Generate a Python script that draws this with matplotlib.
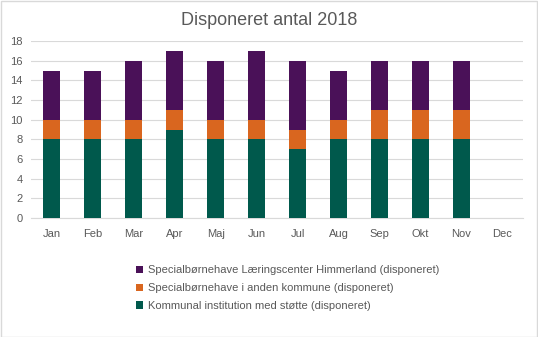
import matplotlib
matplotlib.use("Agg")
import matplotlib.pyplot as plt
from matplotlib.patches import Rectangle
import numpy as np

months = ["Jan", "Feb", "Mar", "Apr", "Maj", "Jun", "Jul", "Aug", "Sep", "Okt", "Nov", "Dec"]
kommunal = [8, 8, 8, 9, 8, 8, 7, 8, 8, 8, 8, 0]
anden = [2, 2, 2, 2, 2, 2, 2, 2, 3, 3, 3, 0]
himmerland = [5, 5, 6, 6, 6, 7, 7, 5, 5, 5, 5, 0]

labels = ["Kommunal institution med støtte (disponeret)",
          "Specialbørnehave i anden kommune (disponeret)",
          "Specialbørnehave Læringscenter Himmerland (disponeret)"]
colors = ["#00594C", "#D9661F", "#4A1158"]

plt.rcParams['font.family'] = ['Liberation Sans', 'DejaVu Sans']
fig = plt.figure(figsize=(5.38, 3.37), dpi=100)
ax = fig.add_axes([0.058, 0.353, 0.914, 0.525])

x = np.arange(len(months))
w = 0.41
k = np.array(kommunal)
a = np.array(anden)
h = np.array(himmerland)
b1 = ax.bar(x, k, w, color=colors[0], label=labels[0], zorder=3)
b2 = ax.bar(x, a, w, bottom=k, color=colors[1], label=labels[1], zorder=3)
b3 = ax.bar(x, h, w, bottom=k + a, color=colors[2], label=labels[2], zorder=3)

ax.set_xlim(-0.5, len(months) - 0.5)
ax.set_ylim(0, 18)
ax.set_yticks(range(0, 19, 2))
ax.set_xticks(x)
ax.set_xticklabels(months)
ax.grid(axis='y', color='#D9D9D9', linewidth=0.8, zorder=0)
for s in ['top', 'right', 'left']:
    ax.spines[s].set_visible(False)
ax.spines['bottom'].set_color('#D9D9D9')
ax.tick_params(axis='both', length=0, labelsize=8, colors='#595959', pad=6)
ax.tick_params(axis='x', pad=8)

fig.text(0.5, 0.94, "Disponeret antal 2018", ha='center', va='center', fontsize=13, color='#595959')

handles = [b3, b2, b1]
leg = fig.legend(handles, [labels[2], labels[1], labels[0]], loc='center left',
                 bbox_to_anchor=(0.235, 0.145), frameon=False, fontsize=8,
                 handlelength=0.6, handleheight=0.6, handletextpad=0.4,
                 labelspacing=0.7, labelcolor='#595959')

fig.patches.append(Rectangle((0.001, 0.001), 0.997, 0.996, transform=fig.transFigure,
                             fill=False, edgecolor='#D9D9D9', linewidth=1))
fig.savefig("out.png", dpi=100)
